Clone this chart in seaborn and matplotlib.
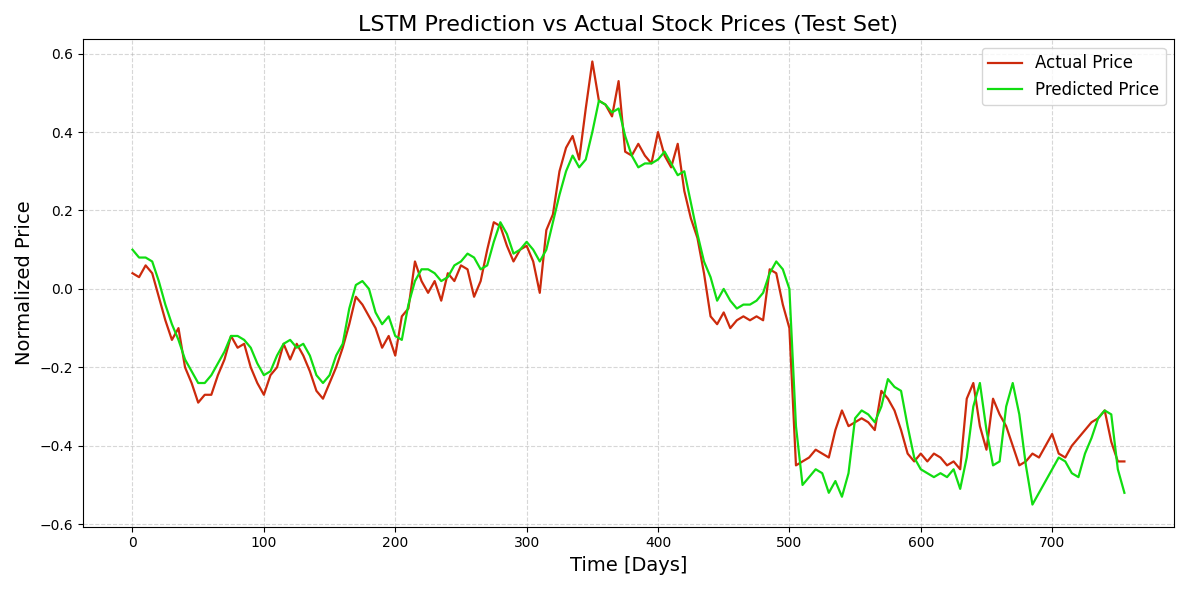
import numpy as np
import pandas as pd
import matplotlib
matplotlib.use("Agg")
import matplotlib.pyplot as plt
import seaborn as sns

# values every 5 days
days = list(range(0, 756, 5))

actual = [0.04, 0.03, 0.06, 0.04, -0.02, -0.08, -0.13, -0.10, -0.20, -0.24,
          -0.29, -0.27, -0.27, -0.22, -0.18, -0.12, -0.15, -0.14, -0.20, -0.24,
          -0.27, -0.22, -0.20, -0.14, -0.18, -0.14, -0.17, -0.21, -0.26, -0.28,
          -0.24, -0.20, -0.15, -0.09, -0.02, -0.04, -0.07, -0.10, -0.15, -0.12,
          -0.17, -0.07, -0.05, 0.07, 0.02, -0.01, 0.02, -0.03, 0.04, 0.02,
          0.06, 0.05, -0.02, 0.02, 0.10, 0.17, 0.16, 0.11, 0.07, 0.10,
          0.11, 0.07, -0.01, 0.15, 0.19, 0.30, 0.36, 0.39, 0.33, 0.46,
          0.58, 0.48, 0.47, 0.44, 0.53, 0.35, 0.34, 0.37, 0.34, 0.32,
          0.40, 0.34, 0.31, 0.37, 0.25, 0.18, 0.13, 0.04, -0.07, -0.09,
          -0.06, -0.10, -0.08, -0.07, -0.08, -0.07, -0.08, 0.05, 0.04, -0.04,
          -0.10, -0.45, -0.44, -0.43, -0.41, -0.42, -0.43, -0.36, -0.31, -0.35,
          -0.34, -0.33, -0.34, -0.36, -0.26, -0.28, -0.31, -0.36, -0.42, -0.44,
          -0.42, -0.44, -0.42, -0.43, -0.45, -0.44, -0.46, -0.28, -0.24, -0.35,
          -0.41, -0.28, -0.32, -0.35, -0.40, -0.45, -0.44, -0.42, -0.43, -0.40,
          -0.37, -0.42, -0.43, -0.40, -0.38, -0.36, -0.34, -0.33, -0.31, -0.39,
          -0.44, -0.44]

predicted = [0.10, 0.08, 0.08, 0.07, 0.02, -0.04, -0.09, -0.13, -0.18, -0.21,
             -0.24, -0.24, -0.22, -0.19, -0.16, -0.12, -0.12, -0.13, -0.15, -0.19,
             -0.22, -0.21, -0.17, -0.14, -0.13, -0.15, -0.14, -0.17, -0.22, -0.24,
             -0.22, -0.17, -0.14, -0.05, 0.01, 0.02, 0.00, -0.06, -0.09, -0.07,
             -0.12, -0.13, -0.04, 0.02, 0.05, 0.05, 0.04, 0.02, 0.03, 0.06,
             0.07, 0.09, 0.08, 0.05, 0.06, 0.12, 0.17, 0.14, 0.09, 0.10,
             0.12, 0.10, 0.07, 0.10, 0.17, 0.24, 0.30, 0.34, 0.31, 0.33,
             0.40, 0.48, 0.47, 0.45, 0.46, 0.39, 0.34, 0.31, 0.32, 0.32,
             0.33, 0.35, 0.32, 0.29, 0.30, 0.22, 0.14, 0.07, 0.03, -0.03,
             0.00, -0.03, -0.05, -0.04, -0.04, -0.03, -0.01, 0.04, 0.07, 0.05,
             0.00, -0.35, -0.50, -0.48, -0.46, -0.47, -0.52, -0.49, -0.53, -0.47,
             -0.33, -0.31, -0.32, -0.34, -0.30, -0.23, -0.25, -0.26, -0.35, -0.43,
             -0.46, -0.47, -0.48, -0.47, -0.48, -0.46, -0.51, -0.43, -0.30, -0.24,
             -0.36, -0.45, -0.44, -0.30, -0.24, -0.32, -0.45, -0.55, -0.52, -0.49,
             -0.46, -0.43, -0.44, -0.47, -0.48, -0.42, -0.38, -0.33, -0.31, -0.32,
             -0.46, -0.52]

df = pd.DataFrame({"Day": days, "Actual Price": actual, "Predicted Price": predicted})

fig, ax = plt.subplots(figsize=(11.89, 5.9), dpi=100)
sns.lineplot(data=df, x="Day", y="Actual Price", color="#cc2a0c", linewidth=1.6, label="Actual Price", ax=ax)
sns.lineplot(data=df, x="Day", y="Predicted Price", color="#11dd11", linewidth=1.6, label="Predicted Price", ax=ax)

ax.set_title("LSTM Prediction vs Actual Stock Prices (Test Set)", fontsize=16)
ax.set_xlabel("Time [Days]", fontsize=14)
ax.set_ylabel("Normalized Price", fontsize=14)
ax.set_yticks(np.arange(-0.6, 0.61, 0.2))
ax.grid(True, linestyle="--", alpha=0.5)
ax.legend(fontsize=12, loc="upper right")

plt.tight_layout()
plt.savefig("out.png")
